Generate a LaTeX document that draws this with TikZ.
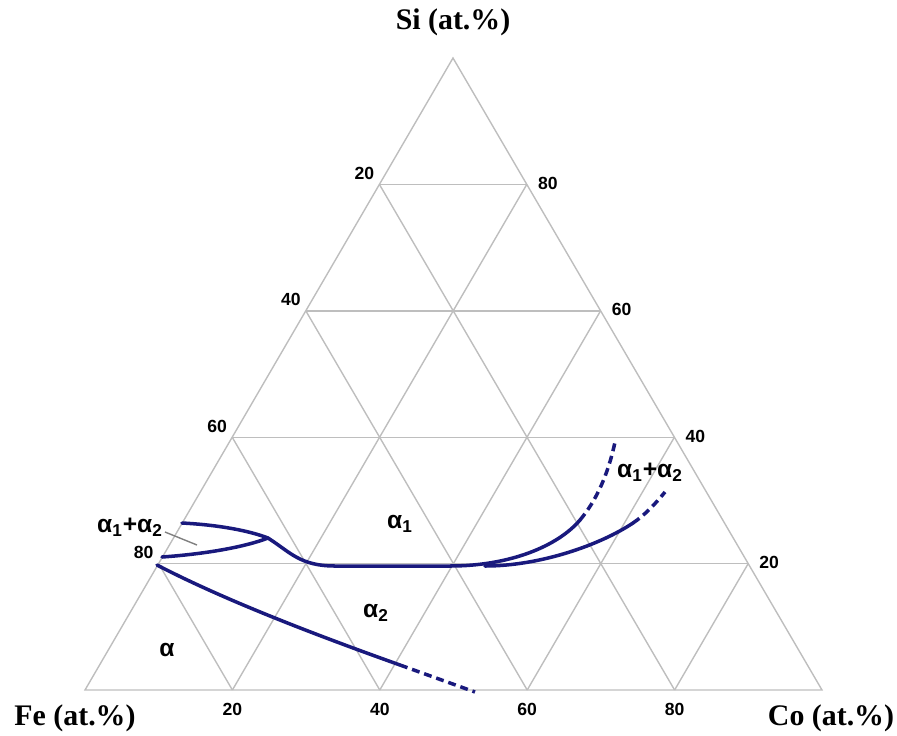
\documentclass[tikz,border=0pt]{standalone}
\usepackage{fontspec}
\setmainfont{Liberation Serif}
\newfontfamily\tickfont{Liberation Sans}
\usepackage{xcolor}
\usepackage{tikz}
\usetikzlibrary{calc}

\definecolor{gridgray}{RGB}{190,190,190}
\definecolor{phaseblue}{RGB}{25,25,125}

\begin{document}
\begin{tikzpicture}[
  x=0.02cm, y=-0.02cm,
  gridline/.style={draw=gridgray, line width=0.8pt},
  phase/.style={draw=phaseblue, line width=2pt, line cap=round},
  phasedash/.style={phase, line cap=butt, dash pattern=on 4.5pt off 2.8pt},
  tick/.style={font=\tickfont\bfseries\fontsize{10}{12}\selectfont, inner sep=0pt},
  axislabel/.style={font=\bfseries\fontsize{17}{20}\selectfont, inner sep=0pt},
  region/.style={font=\tickfont\bfseries\fontsize{14}{16}\selectfont, inner sep=0pt},
]
\useasboundingbox (0,0) rectangle (897,735);

% triangle corners
\coordinate (Fe) at (85,690);
\coordinate (Co) at (822,690);
\coordinate (Si) at (453,58);

% ---------------- grid ----------------
\draw[gridline] (Fe) -- (Co) -- (Si) -- cycle;
\foreach \t in {0.2,0.4,0.6,0.8} {
  \draw[gridline] ($(Fe)!\t!(Si)$) -- ($(Co)!\t!(Si)$);
  \draw[gridline] ($(Fe)!\t!(Co)$) -- ($(Si)!\t!(Co)$);
  \draw[gridline] ($(Co)!\t!(Fe)$) -- ($(Si)!\t!(Fe)$);
}

% ---------------- tick labels ----------------
\foreach \t/\lab in {0.2/20,0.4/40,0.6/60,0.8/80} {
  \node[tick] (b\lab) at ($(Fe)!\t!(Co) + (0,19)$) {\lab};
  \node[tick] (r\lab) at ($(Co)!\t!(Si) + (21,-1)$) {\lab};
}
\foreach \t/\lab in {0.2/80,0.4/60,0.6/40,0.8/20} {
  \node[tick] (l\lab) at ($(Fe)!\t!(Si) + (-15,-11)$) {\lab};
}

% ---------------- axis names ----------------
\node[axislabel] (siname) at (453,22) {Si (at.\%)};
\node[axislabel] (fename) at (75,718) {Fe (at.\%)};
\node[axislabel] (coname) at (831,718) {Co (at.\%)};

% ---------------- phase boundaries ----------------
\coordinate (cusp) at (268,538);
\coordinate (fork) at (485,566);

% alpha / alpha2
\draw[phase] (157,565) .. controls (230,603) and (330,640) .. (400,665);
\draw[phasedash] (400,665) -- (475,692);

% left lens
\draw[phase] (182,523) .. controls (220,525) and (250,531) .. (cusp);
\draw[phase] (162,557) .. controls (205,554) and (245,547) .. (cusp);

% alpha1 / alpha2
\draw[phase] (cusp) .. controls (290,552) and (300,566) .. (335,566)
  -- (450,566) .. controls (510,566) and (558,546) .. (580,520);
\draw[phasedash] (580,520) .. controls (596,501) and (608,475) .. (615,442);

% right lens
\draw[phase] (fork) .. controls (540,566) and (600,545) .. (633,523);
\draw[phasedash] (633,523) .. controls (645,515) and (656,503) .. (665,492);

% ---------------- phase names ----------------
\node[region] (alpha) at (167,650) {α};
\node[region] (alphaone) at (400,524) {α\textsubscript{1}};
\node[region] (alphatwo) at (376,613) {α\textsubscript{2}};
\node[region] (lensleft) at (130,527) {α\textsubscript{1}+α\textsubscript{2}};
\node[region] (lensright) at (650,472) {α\textsubscript{1}+α\textsubscript{2}};
\coordinate (lensfoot) at (165,532);
\coordinate (lensmark) at (197,545);
\draw[gridline, draw=gray] (lensfoot) -- (lensmark);
\end{tikzpicture}
\end{document}
